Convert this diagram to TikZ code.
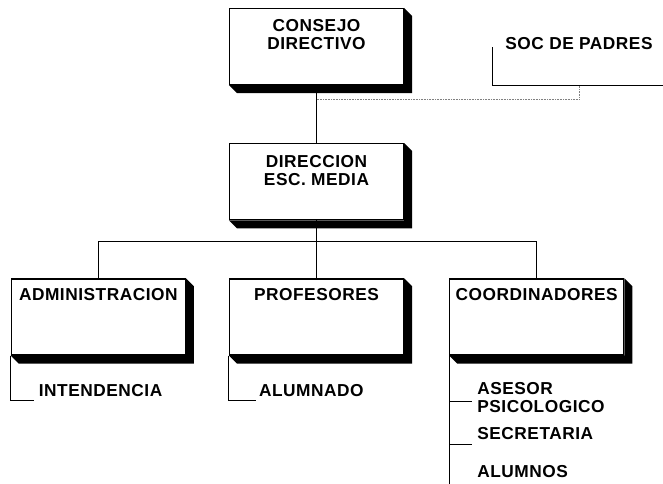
\documentclass[tikz,border=0pt]{standalone}
\usepackage{fontspec}
\setmainfont{Liberation Sans}[LetterSpace=3]
\usetikzlibrary{positioning}

\newcommand\orgfont{\fontsize{17.3}{18}\selectfont\bfseries}

\begin{document}
\begin{tikzpicture}[x=1pt, y=1pt,
	box/.style={rectangle, draw, line width=1.2pt, fill=white, minimum width=174pt, minimum height=76pt, inner sep=0pt},
	title/.style={font=\orgfont, align=center, inner sep=0pt},
	item/.style={font=\orgfont, align=left, inner sep=0pt, anchor=west},
	link/.style={line width=1pt},
	dotlink/.style={densely dotted, gray, line width=0.6pt}]
		\useasboundingbox (0,0) rectangle (663,-483);

		\node [box] (CD) at (316.5,-46.5) {};
		\node [box, below=58pt of CD] (DIR) {};
		\node [box, below=58pt of DIR] (PROF) {};
		\node [box, left =43pt of PROF] (ADM) {};
		\node [box, right=45pt of PROF] (COORD) {};

		% extruded sides of the boxes
		\foreach \b in {CD, DIR, ADM, PROF, COORD}
			\fill (\b.north east) -- ++(8,-8) -- ([shift={(8,-8)}]\b.south east)
				-- ([shift={(8,-8)}]\b.south west) -- (\b.south west) -- (\b.south east) -- cycle;

		\node [title, below=11pt of CD.north] (CDtxt) {CONSEJO\\DIRECTIVO};
		\node [title, below=12pt of DIR.north] (DIRtxt) {DIRECCION\\ESC. MEDIA};
		\node [title, below=10pt of ADM.north] (ADMtxt) {ADMINISTRACION};
		\node [title, below=10pt of PROF.north] (PROFtxt) {PROFESORES};
		\node [title, below=10pt of COORD.north] (COORDtxt) {COORDINADORES};

		\node [item, anchor=center] (SOC) at (579,-44) {SOC DE PADRES};
		\coordinate (socEnd) at (663,-85);

		\draw[link] (CD.south) -- (DIR.north);
		\draw[link] (DIR.south) -- ++(0,-21) coordinate (bus);
		\draw[link] (ADM.north) |- (bus) -| (COORD.north);
		\draw[link] (PROF.north) -- (PROF.north |- bus);

		\draw[link] ([shift={(-13,-3)}]SOC.west) |- (socEnd);
		\draw[dotlink] (CD.south) ++(0,-14) -| (SOC.south |- socEnd);

		% sub units
		\draw[link] (ADM.south west) |- ++(23,-45);
		\node [item] (INT) at ([shift={(28,-35)}]ADM.south west) {INTENDENCIA};

		\draw[link] (PROF.south west) |- ++(27,-45);
		\node [item] (ALU) at ([shift={(30,-35)}]PROF.south west) {ALUMNADO};

		\draw[link] (COORD.south west) -- ++(0,-128);
		\draw[link] (COORD.south west) ++(0,-46) -- ++(23,0);
		\draw[link] (COORD.south west) ++(0,-89) -- ++(23,0);
		\node [item] (ASE) at ([shift={(28,-42)}]COORD.south west) {ASESOR\\PSICOLOGICO};
		\node [item] (SEC) at ([shift={(28,-78)}]COORD.south west) {SECRETARIA};
		\node [item] (ALS) at ([shift={(28,-116)}]COORD.south west) {ALUMNOS};
	\end{tikzpicture}
\end{document}
